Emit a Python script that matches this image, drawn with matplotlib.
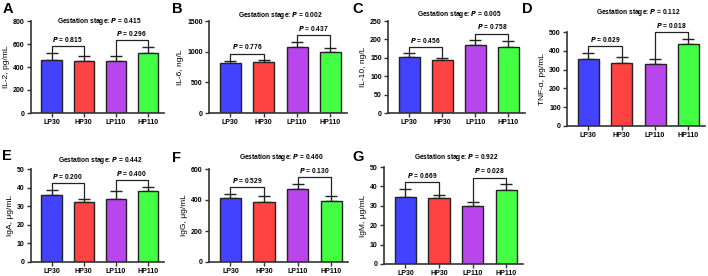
import matplotlib.pyplot as plt

plt.rcParams['font.family'] = ['Liberation Sans', 'DejaVu Sans']
plt.rcParams['font.weight'] = 'bold'

groups = ['LP30', 'HP30', 'LP110', 'HP110']
colors = ['#4343ff', '#ff4343', '#b846ec', '#43ff43']

il2 = [465, 450, 455, 525]
il2_err = [60, 42, 45, 50]
il6 = [815, 830, 1075, 990]
il6_err = [40, 35, 90, 75]
il10 = [151, 143, 186, 179]
il10_err = [11, 6, 12, 16]
tnf = [358, 336, 330, 438]
tnf_err = [30, 33, 27, 27]
iga = [36, 32, 34, 38]
iga_err = [2.8, 1.8, 4.1, 2.5]
igg = [412, 388, 468, 395]
igg_err = [28, 35, 38, 28]
igm = [34.6, 34.0, 30.0, 38.3]
igm_err = [4.0, 1.5, 2.0, 2.7]

p_stage = ['0.415', '0.002', '0.005', '0.112', '0.442', '0.460', '0.922']
p_30 = ['0.815', '0.776', '0.456', '0.629', '0.200', '0.529', '0.669']
p_110 = ['0.296', '0.437', '0.758', '0.018', '0.400', '0.130', '0.028']

ylabels = ['IL-2, pg/mL', 'IL-6, ng/L', 'IL-10, ng/L', 'TNF-\u03b1, pg/mL',
           'IgA, \u03bcg/mL', 'IgG, \u03bcg/mL', 'IgM, \u03bcg/mL']
yticks = [range(0, 801, 200), range(0, 1501, 500), range(0, 251, 50),
          range(0, 501, 100), range(0, 51, 10), range(0, 601, 200),
          range(0, 51, 10)]
letters = ['A', 'B', 'C', 'D', 'E', 'F', 'G']
means = [il2, il6, il10, tnf, iga, igg, igm]
errs = [il2_err, il6_err, il10_err, tnf_err, iga_err, igg_err, igm_err]

# axes boxes in pixels: left, right, top, bottom
W, H = 708, 276
boxes = [(31, 164, 21, 113), (209, 347, 21, 113), (388, 525, 21, 113),
         (567, 705, 32, 126), (31, 164, 169, 262), (209, 348, 169, 262),
         (384, 523, 167, 264)]
letter_pos = [(3, 13), (172, 13), (352, 13), (522, 13),
              (2, 160), (172, 162), (352, 161)]

fig = plt.figure(figsize=(7.08, 2.76), dpi=100)

for i in range(7):
    l, r, t, b = boxes[i]
    ax = fig.add_axes([l / W, (H - b) / H, (r - l) / W, (b - t) / H])
    x = range(4)
    ax.bar(x, means[i], width=0.63, color=colors, edgecolor='#222222',
           linewidth=1.0, zorder=2)
    ax.errorbar(x, means[i], yerr=[[0] * 4, errs[i]], fmt='none',
                ecolor='#222222', elinewidth=1.0, capsize=4.5, capthick=1.0,
                zorder=1)
    ymax = yticks[i][-1]
    ax.set_ylim(0, ymax)
    ax.set_xlim(-0.64, 3.5)
    ax.set_yticks(list(yticks[i]))
    ax.set_xticks(list(x))
    ax.set_xticklabels(groups)
    ax.tick_params(labelsize=5, width=1.0, length=3, color='#333333', pad=1.5)
    for s in ['top', 'right']:
        ax.spines[s].set_visible(False)
    for s in ['left', 'bottom']:
        ax.spines[s].set_linewidth(1.2)
        ax.spines[s].set_color('#333333')
    ax.set_ylabel(ylabels[i], fontsize=6, labelpad=2)

    tops = [m + e for m, e in zip(means[i], errs[i])]
    highest = 0
    for a, pv in [(0, p_30[i]), (2, p_110[i])]:
        h = max(tops[a], tops[a + 1]) + 0.07 * ymax
        ax.plot([a, a, a + 1, a + 1],
                [tops[a] + 0.01 * ymax, h, h, tops[a + 1] + 0.01 * ymax],
                color='#222222', lw=0.9, clip_on=False)
        ax.text(a + 0.5, h + 0.025 * ymax, '$\\bfit{P}$ = ' + pv,
                ha='center', va='bottom', fontsize=4.8, clip_on=False)
        highest = max(highest, h)
    ax.text(1.5, highest + 0.15 * ymax,
            'Gestation stage: $\\bfit{P}$ = ' + p_stage[i],
            ha='center', va='bottom', fontsize=4.8, clip_on=False)

    lx, ly = letter_pos[i]
    fig.text(lx / W, (H - ly) / H, letters[i], fontsize=10.5,
             fontweight='bold', ha='left', va='baseline')

fig.savefig('out.png', dpi=100)
